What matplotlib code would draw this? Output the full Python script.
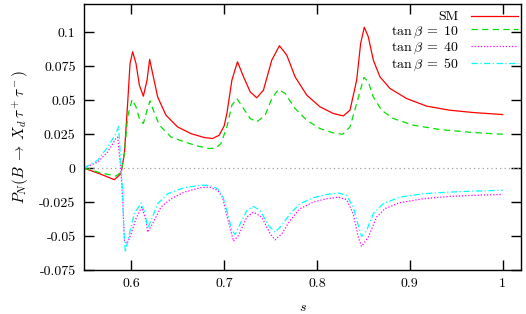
import matplotlib
matplotlib.use("Agg")
import matplotlib.pyplot as plt

# data
sm_s = [0.549, 0.5675, 0.5817, 0.5889, 0.5925, 0.596, 0.5986, 0.6014, 0.605, 0.6086,
        0.6129, 0.6169, 0.6197, 0.6229, 0.6283, 0.6373, 0.6498, 0.6642, 0.6785, 0.6874,
        0.6946, 0.7, 0.7029, 0.7083, 0.7143, 0.7208, 0.728, 0.7351, 0.7423, 0.7513,
        0.7595, 0.7674, 0.7763, 0.7889, 0.8032, 0.8175, 0.8283, 0.8355, 0.8427, 0.847,
        0.8509, 0.8552, 0.8606, 0.8677, 0.8785, 0.8964, 0.918, 0.943, 0.968, 1.0]
sm_p = [0.0, -0.0047, -0.0086, -0.0041, 0.0108, 0.0474, 0.0769, 0.0855, 0.0769, 0.061,
        0.0528, 0.0646, 0.0799, 0.0696, 0.0523, 0.0388, 0.0302, 0.0253, 0.0224, 0.0217,
        0.0241, 0.031, 0.0401, 0.0646, 0.0781, 0.0671, 0.056, 0.0516, 0.0573, 0.0794,
        0.0899, 0.083, 0.0671, 0.0536, 0.045, 0.0401, 0.0383, 0.0425, 0.0646, 0.0917,
        0.1035, 0.0965, 0.0794, 0.0671, 0.0585, 0.0511, 0.0455, 0.0425, 0.0408, 0.0393]

tb10_s = [0.549, 0.5675, 0.5835, 0.5889, 0.5925, 0.596, 0.6008, 0.605, 0.6086, 0.6129,
          0.6169, 0.6201, 0.6237, 0.6301, 0.6427, 0.657, 0.6713, 0.6839, 0.6911, 0.6965,
          0.7029, 0.7083, 0.7137, 0.7208, 0.728, 0.7351, 0.7441, 0.7513, 0.7584, 0.7656,
          0.7763, 0.7889, 0.8032, 0.8175, 0.8276, 0.8355, 0.8427, 0.8505, 0.8552, 0.8606,
          0.8695, 0.882, 0.9036, 0.9323, 0.968, 1.0]
tb10_p = [0.0, -0.0037, -0.0059, -0.003, 0.0108, 0.0376, 0.0504, 0.045, 0.0364, 0.0327,
          0.0425, 0.0494, 0.0425, 0.0315, 0.0228, 0.0192, 0.0162, 0.0143, 0.0147, 0.018,
          0.0302, 0.0462, 0.0511, 0.0438, 0.0364, 0.0339, 0.0388, 0.0511, 0.0578, 0.0548,
          0.0438, 0.0351, 0.029, 0.0258, 0.0248, 0.0302, 0.0474, 0.0666, 0.0634, 0.0523,
          0.0425, 0.0364, 0.0315, 0.0283, 0.0261, 0.0248]

tb40_s = [0.549, 0.5638, 0.5745, 0.5835, 0.5853, 0.5885, 0.5907, 0.5925, 0.5954, 0.5997,
          0.605, 0.6111, 0.6158, 0.6175, 0.6229, 0.6319, 0.6427, 0.657, 0.6749, 0.6839,
          0.6928, 0.6982, 0.7029, 0.71, 0.7154, 0.7244, 0.7315, 0.7405, 0.7495, 0.7548,
          0.762, 0.771, 0.7817, 0.7961, 0.8104, 0.8229, 0.8319, 0.839, 0.8444, 0.848,
          0.8552, 0.8642, 0.8731, 0.8892, 0.9143, 0.943, 0.968, 1.0]
tb40_p = [0.0, 0.0044, 0.0118, 0.0217, 0.0228, 0.0, -0.0238, -0.0533, -0.0557, -0.0484,
          -0.0373, -0.0287, -0.0385, -0.0472, -0.041, -0.0287, -0.0226, -0.0177, -0.0144, -0.014,
          -0.0164, -0.0214, -0.0349, -0.0538, -0.0496, -0.0361, -0.0324, -0.0361, -0.0484, -0.0528,
          -0.0484, -0.0385, -0.0299, -0.025, -0.0226, -0.0214, -0.0233, -0.0336, -0.0508, -0.0577,
          -0.0508, -0.0361, -0.0299, -0.0255, -0.0226, -0.0209, -0.0201, -0.0194]

tb50_s = [0.549, 0.5638, 0.5745, 0.5835, 0.5863, 0.589, 0.5907, 0.5918, 0.5935, 0.5978,
          0.6032, 0.6104, 0.615, 0.6175, 0.6212, 0.6283, 0.6391, 0.657, 0.6749, 0.6839,
          0.6928, 0.6982, 0.7029, 0.7083, 0.7118, 0.7172, 0.7244, 0.7315, 0.7387, 0.7477,
          0.7548, 0.762, 0.771, 0.7817, 0.7961, 0.8104, 0.8229, 0.8319, 0.839, 0.8444,
          0.848, 0.8534, 0.8606, 0.8713, 0.8892, 0.9143, 0.943, 0.968, 1.0]
tb50_p = [0.0, 0.0057, 0.0155, 0.0253, 0.0307, 0.0, -0.0189, -0.0435, -0.0619, -0.0484,
          -0.0336, -0.0258, -0.0336, -0.0447, -0.0385, -0.0262, -0.0189, -0.0144, -0.0127, -0.0127,
          -0.0152, -0.0201, -0.0312, -0.0459, -0.0489, -0.041, -0.0312, -0.0282, -0.0312, -0.0422,
          -0.0472, -0.0422, -0.0336, -0.0262, -0.0218, -0.0194, -0.0184, -0.0201, -0.0287, -0.0422,
          -0.0503, -0.0459, -0.0336, -0.0262, -0.0214, -0.0189, -0.0177, -0.017, -0.0164]

x_ticks = [0.6, 0.7, 0.8, 0.9, 1.0]
x_labels = ["0.6", "0.7", "0.8", "0.9", "1"]
y_ticks = [-0.075, -0.05, -0.025, 0, 0.025, 0.05, 0.075, 0.1]
y_labels = ["-0.075", "-0.05", "-0.025", "0", "0.025", "0.05", "0.075", "0.1"]

plt.rcParams["font.family"] = "serif"
plt.rcParams["font.serif"] = ["cmr10"]
plt.rcParams["mathtext.fontset"] = "cm"
plt.rcParams["font.size"] = 10

fig = plt.figure(figsize=(5.26, 3.14), dpi=100)
ax = fig.add_axes([0.1597, 0.1401, 0.8308, 0.8472])

ax.axhline(0, color="#a0a0a0", linestyle=(0, (1, 2.5)), linewidth=0.9)
ax.plot(sm_s, sm_p, color="#ff0000", linewidth=0.9, label="SM")
ax.plot(tb10_s, tb10_p, color="#00e000", linewidth=0.9, linestyle=(0, (5, 3.5)),
        label=r"$\tan\beta\;=\;10$")
ax.plot(tb40_s, tb40_p, color="#ff00ff", linewidth=0.9, linestyle=(0, (1, 1.5)),
        label=r"$\tan\beta\;=\;40$")
ax.plot(tb50_s, tb50_p, color="#00ffff", linewidth=0.9, linestyle=(0, (5, 2, 1, 2)),
        label=r"$\tan\beta\;=\;50$")

ax.set_xlim(0.549, 1.0197)
ax.set_ylim(-0.075, 0.1206)
ax.set_xticks(x_ticks)
ax.set_xticklabels(x_labels)
ax.set_yticks(y_ticks)
ax.set_yticklabels(y_labels)
ax.tick_params(direction="in", length=7, width=1, top=True, right=True, pad=6)
for sp in ax.spines.values():
    sp.set_linewidth(1)

ax.set_xlabel(r"$s$", labelpad=8)
ax.set_ylabel(r"$P_N(B\;\rightarrow\;X_d\,\tau^+\tau^-)$", fontsize=11, labelpad=6)

ax.legend(loc="upper right", bbox_to_anchor=(1.0, 0.985), frameon=False, markerfirst=False,
          handlelength=3.4, handletextpad=0.9, labelspacing=0.05, borderaxespad=0.0,
          borderpad=0.2)

fig.savefig("out.png", dpi=100)
